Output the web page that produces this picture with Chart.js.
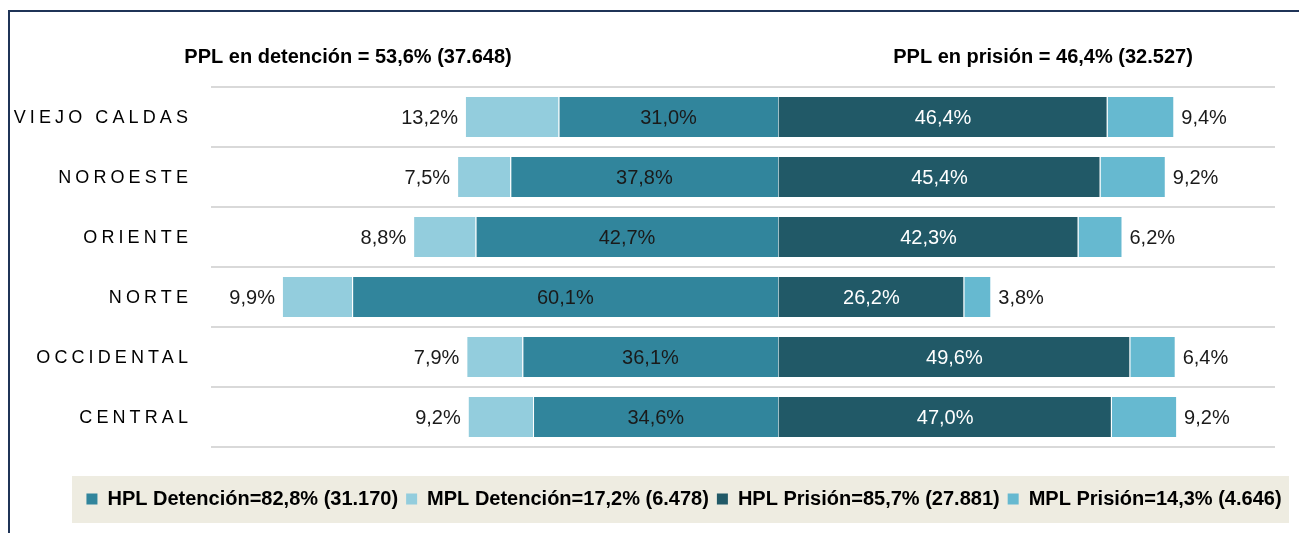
<!DOCTYPE html>
<html>
<head>
<meta charset="utf-8">
<script src="https://cdn.jsdelivr.net/npm/chart.js@4"></script>
<style>
  html, body { margin: 0; padding: 0; background: #ffffff; }
  #wrap { width: 1299px; height: 533px; position: relative; }
</style>
</head>
<body>
<div id="wrap"><canvas id="myChart" width="1299" height="533"></canvas></div>
<script>
// categories (top to bottom)
const categories = ["VIEJO CALDAS", "NOROESTE", "ORIENTE", "NORTE", "OCCIDENTAL", "CENTRAL"];

// % of each region, detention (left side) and prison (right side)
const hplDetencion = [31.0, 37.8, 42.7, 60.1, 36.1, 34.6];
const mplDetencion = [13.2, 7.5, 8.8, 9.9, 7.9, 9.2];
const hplPrision = [46.4, 45.4, 42.3, 26.2, 49.6, 47.0];
const mplPrision = [9.4, 9.2, 6.2, 3.8, 6.4, 9.2];

const seriesNames = [
  "HPL Detención=82,8% (31.170)",
  "MPL Detención=17,2% (6.478)",
  "HPL Prisión=85,7% (27.881)",
  "MPL Prisión=14,3% (4.646)",
];
const titleLeft = "PPL en detención = 53,6% (37.648)";
const titleRight = "PPL en prisión = 46,4% (32.527)";

const colors = ["#31859C", "#93CDDD", "#215967", "#66B9D0"];

const fmt = (v) => Math.abs(v).toFixed(1).replace(".", ",") + "%";

// frame, beige legend box and the two headers
const decorPlugin = {
  id: "decor",
  beforeDraw(chart) {
    const ctx = chart.ctx;
    ctx.save();
    ctx.fillStyle = "#EEECE1";
    ctx.fillRect(72, 476, 1217, 47);
    ctx.strokeStyle = "#1F3457";
    ctx.lineWidth = 2;
    ctx.beginPath();
    ctx.moveTo(9, 533);
    ctx.lineTo(9, 11);
    ctx.lineTo(1299, 11);
    ctx.stroke();
    ctx.restore();
  },
  afterDraw(chart) {
    const ctx = chart.ctx;
    ctx.save();
    ctx.fillStyle = "#000000";
    ctx.font = "bold 20px 'Liberation Sans', Arial, sans-serif";
    ctx.textAlign = "center";
    ctx.textBaseline = "middle";
    ctx.fillText(titleLeft, 348, 57);
    ctx.fillText(titleRight, 1043, 57);

    // category labels with letter spacing
    const yScale = chart.scales.y;
    ctx.font = "18px 'Liberation Sans', Arial, sans-serif";
    ctx.letterSpacing = "4.1px";
    ctx.textAlign = "right";
    ctx.fillStyle = "#000000";
    categories.forEach((c, i) => {
      ctx.fillText(c, 192, yScale.getPixelForValue(i) + 1);
    });
    ctx.restore();
  },
};

// value labels drawn from the bar elements
const valueLabels = {
  id: "valueLabels",
  afterDatasetsDraw(chart) {
    const ctx = chart.ctx;
    ctx.save();
    ctx.font = "20px 'Liberation Sans', Arial, sans-serif";
    ctx.textBaseline = "middle";
    chart.data.datasets.forEach((ds, di) => {
      const meta = chart.getDatasetMeta(di);
      meta.data.forEach((bar, i) => {
        const v = ds.data[i];
        const txt = fmt(v);
        if (di === 0 || di === 2) {
          ctx.textAlign = "center";
          ctx.fillStyle = di === 0 ? "#1A1A1A" : "#FFFFFF";
          ctx.fillText(txt, (bar.x + bar.base) / 2, bar.y + 1);
        } else if (di === 1) {
          ctx.textAlign = "right";
          ctx.fillStyle = "#1A1A1A";
          ctx.fillText(txt, bar.x - 7, bar.y + 1);
        } else {
          ctx.textAlign = "left";
          ctx.fillStyle = "#1A1A1A";
          ctx.fillText(txt, bar.x + 7, bar.y + 1);
        }
      });
    });
    ctx.restore();
  },
};

const ctx1 = document.getElementById("myChart").getContext("2d");
new Chart(ctx1, {
  type: "bar",
  data: {
    labels: categories,
    datasets: [
      { label: seriesNames[0], data: hplDetencion.map((v) => -v), backgroundColor: colors[0] },
      { label: seriesNames[1], data: mplDetencion.map((v) => -v), backgroundColor: colors[1] },
      { label: seriesNames[2], data: hplPrision, backgroundColor: colors[2] },
      { label: seriesNames[3], data: mplPrision, backgroundColor: colors[3] },
    ].map((d) => ({
      ...d,
      borderColor: "rgba(255,255,255,0.55)",
      borderWidth: 1,
      barPercentage: 0.7,
      categoryPercentage: 1,
    })),
  },
  options: {
    indexAxis: "y",
    responsive: false,
    animation: false,
    layout: { padding: { top: 87, left: 69, right: 0, bottom: 14 } },
    scales: {
      x: {
        stacked: true,
        min: -80,
        max: 70,
        grid: { display: false },
        border: { display: false },
        ticks: { display: false },
        afterFit: (s) => { s.height = 34; },
      },
      y: {
        stacked: true,
        grid: { color: "#D9D9D9", lineWidth: 2, offset: true, drawTicks: false },
        border: { display: false },
        ticks: { display: false },
        afterFit: (s) => { s.width = 142; },
      },
      // empty right axis, only keeps the plot off the right edge
      yRight: {
        type: "linear",
        position: "right",
        grid: { display: false },
        border: { display: false },
        ticks: { display: false },
        afterFit: (s) => { s.width = 24; },
      },
    },
    plugins: {
      tooltip: { enabled: false },
      legend: {
        position: "bottom",
        labels: {
          boxWidth: 11,
          boxHeight: 11,
          padding: 8,
          color: "#000000",
          font: { family: "'Liberation Sans', Arial, sans-serif", size: 20, weight: "bold" },
          generateLabels: (chart) =>
            chart.data.datasets.map((ds, i) => ({
              text: ds.label,
              fillStyle: colors[i],
              strokeStyle: colors[i],
              lineWidth: 0,
              datasetIndex: i,
            })),
        },
      },
    },
  },
  plugins: [decorPlugin, valueLabels],
});
</script>
</body>
</html>
